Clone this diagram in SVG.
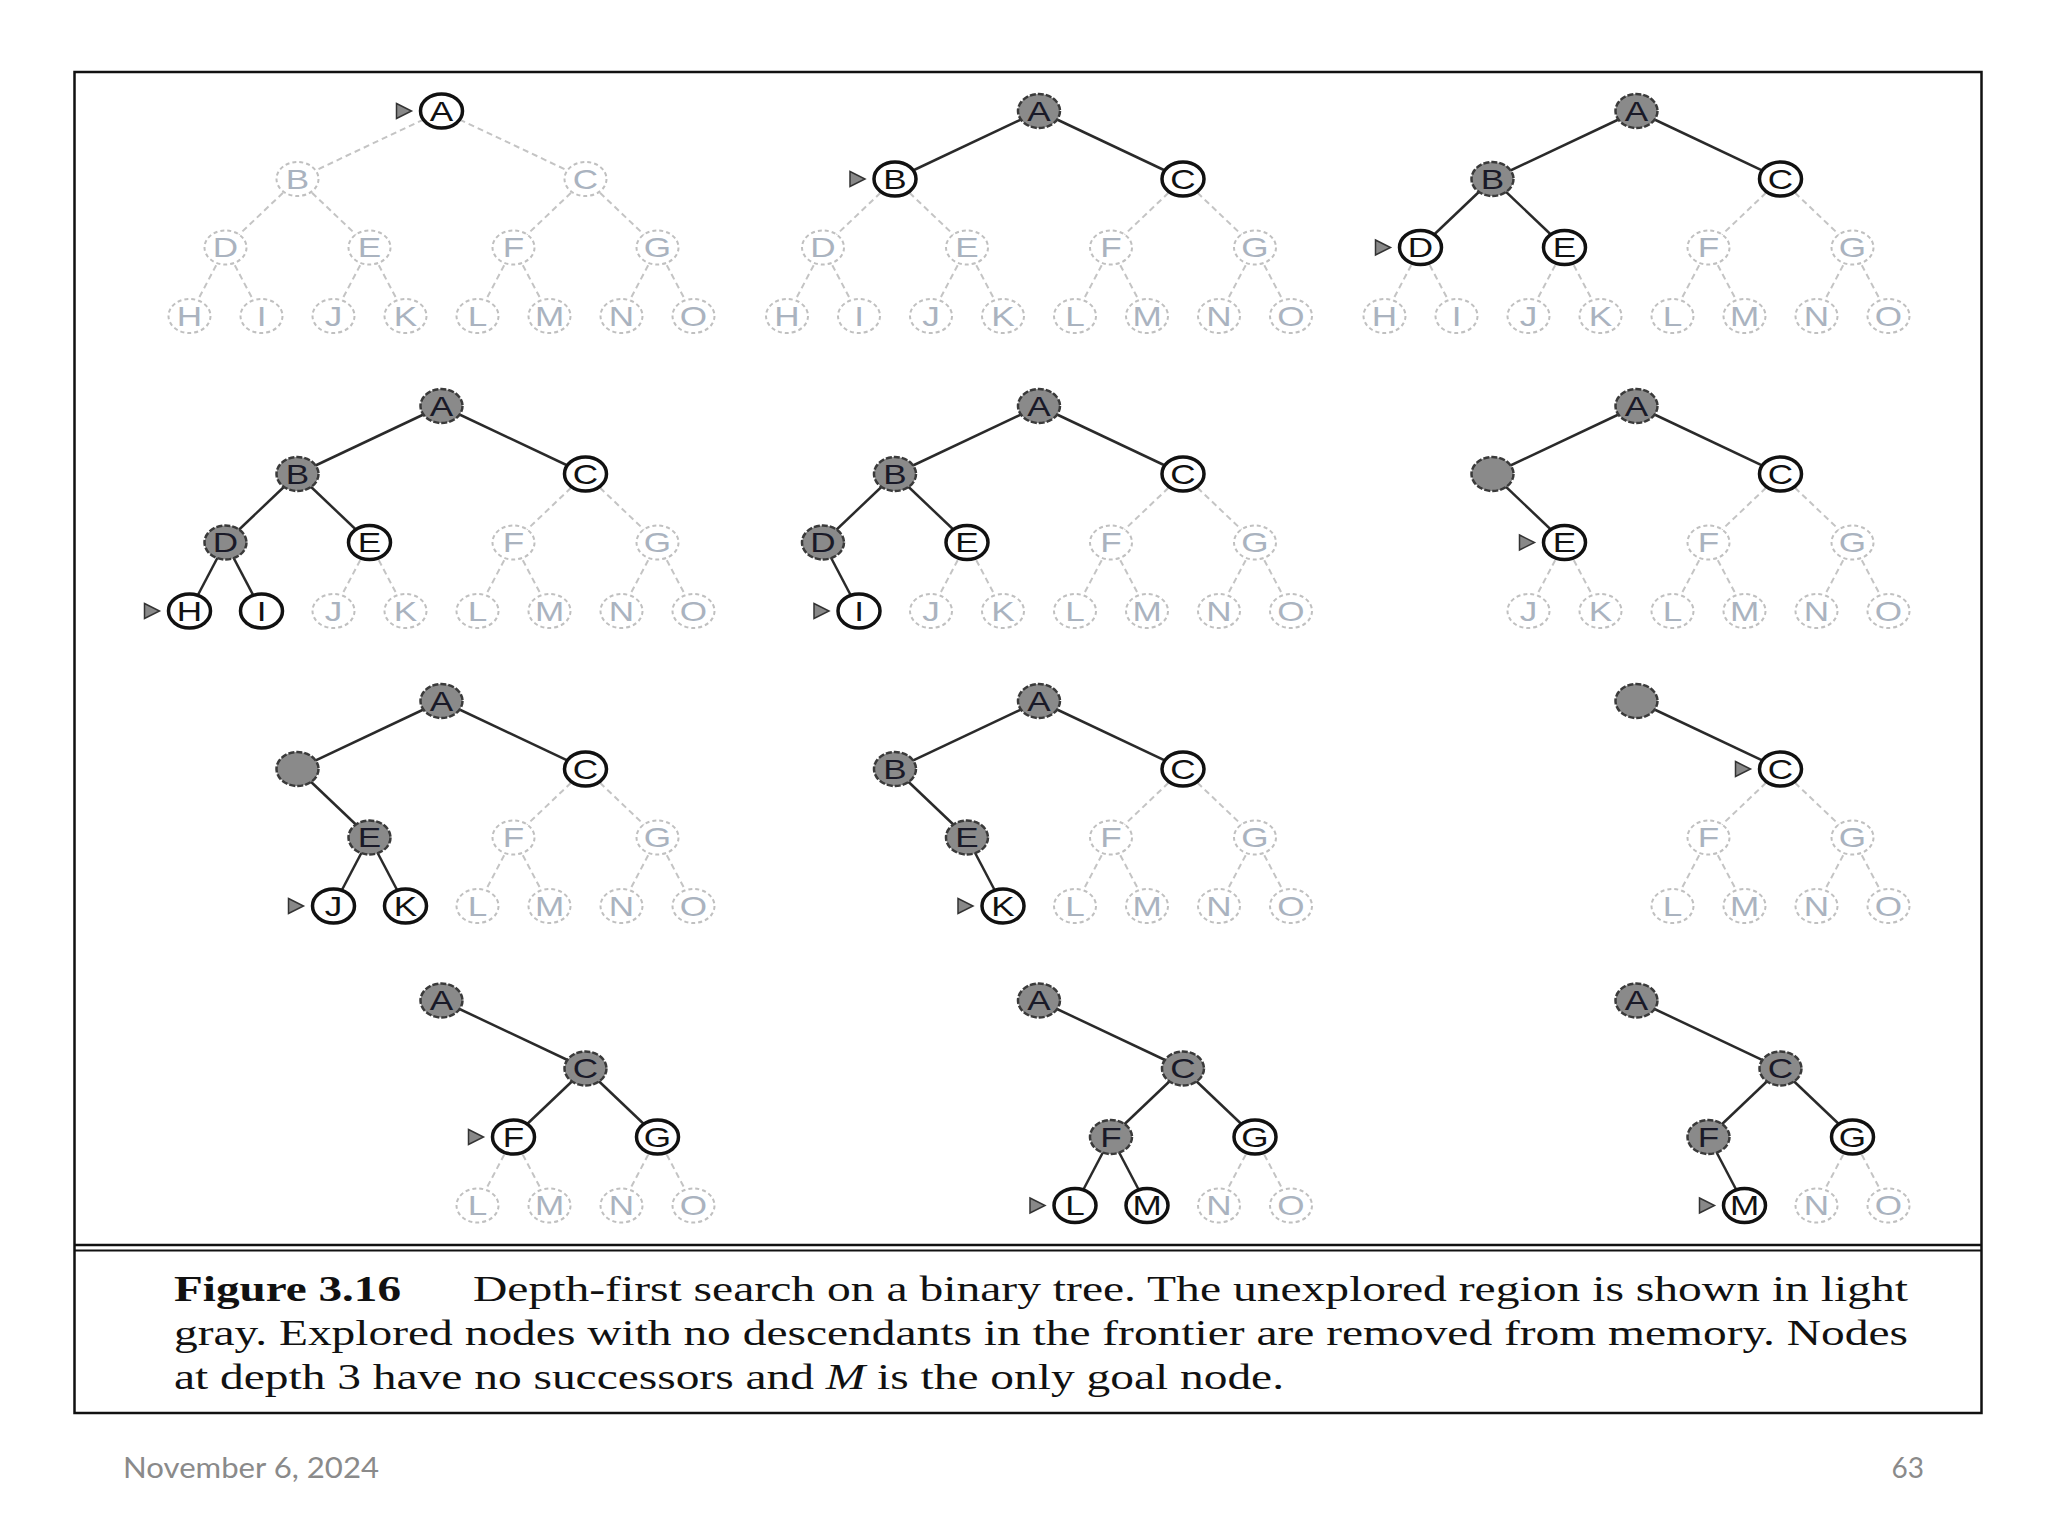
<svg xmlns="http://www.w3.org/2000/svg" xmlns:xlink="http://www.w3.org/1999/xlink" width="2048" height="1536" viewBox="0 0 2048 1536">
<style>
.n text{font-family:"Liberation Sans",Arial,sans-serif;font-size:27px;text-anchor:middle}
.u ellipse{fill:#fff;stroke:#c0c0c0;stroke-width:2;stroke-dasharray:4 3}
.u text{fill:#aab3bf}
.f ellipse{fill:#fff;stroke:#111;stroke-width:3.5}
.f text{fill:#111}
.x ellipse{fill:#8a8a8a;stroke:#3a3a3a;stroke-width:2.5;stroke-dasharray:6 2}
.x text{fill:#1a1a28}
.eu{stroke:#c4c4c4;stroke-width:2;stroke-dasharray:6 4;fill:none}
.ex{stroke:#2a2a2a;stroke-width:2.5;fill:none}
.cap{font-family:"Liberation Serif","Times New Roman",serif;font-size:36px;fill:#111}
.foot{font-family:Lato,"Open Sans",sans-serif;font-size:28px;fill:#8a8a8a}
</style>
<defs>
<polygon id="ptr" points="-45,-7.5 -30,0 -45,7.5" fill="#888" stroke="#333" stroke-width="1.5"/>
</defs>
<rect width="2048" height="1536" fill="#fff"/>
<rect x="74.5" y="72" width="1907" height="1341" fill="none" stroke="#111" stroke-width="2.5"/>
<line x1="74.5" y1="1245" x2="1981.5" y2="1245" stroke="#111" stroke-width="2.5"/>
<line x1="74.5" y1="1250.5" x2="1981.5" y2="1250.5" stroke="#111" stroke-width="2"/>

<!-- Panel 1 -->
<g id="panel1">
<g id="p1-edges">
<line class="eu" x1="441.5" y1="111" x2="297.5" y2="179"/>
<line class="eu" x1="441.5" y1="111" x2="585.5" y2="179"/>
<line class="eu" x1="297.5" y1="179" x2="225.5" y2="247.5"/>
<line class="eu" x1="297.5" y1="179" x2="369.5" y2="247.5"/>
<line class="eu" x1="585.5" y1="179" x2="513.5" y2="247.5"/>
<line class="eu" x1="585.5" y1="179" x2="657.5" y2="247.5"/>
<line class="eu" x1="225.5" y1="247.5" x2="189.5" y2="316"/>
<line class="eu" x1="225.5" y1="247.5" x2="261.5" y2="316"/>
<line class="eu" x1="369.5" y1="247.5" x2="333.5" y2="316"/>
<line class="eu" x1="369.5" y1="247.5" x2="405.5" y2="316"/>
<line class="eu" x1="513.5" y1="247.5" x2="477.5" y2="316"/>
<line class="eu" x1="513.5" y1="247.5" x2="549.5" y2="316"/>
<line class="eu" x1="657.5" y1="247.5" x2="621.5" y2="316"/>
<line class="eu" x1="657.5" y1="247.5" x2="693.5" y2="316"/>
</g>
<g id="p1-A" class="n f" transform="translate(441.5 111)"><use href="#ptr"/><ellipse rx="21" ry="17"/><text y="9.5" transform="scale(1.3 1)">A</text></g>
<g id="p1-B" class="n u" transform="translate(297.5 179)"><ellipse rx="21" ry="17"/><text y="9.5" transform="scale(1.3 1)">B</text></g>
<g id="p1-C" class="n u" transform="translate(585.5 179)"><ellipse rx="21" ry="17"/><text y="9.5" transform="scale(1.3 1)">C</text></g>
<g id="p1-D" class="n u" transform="translate(225.5 247.5)"><ellipse rx="21" ry="17"/><text y="9.5" transform="scale(1.3 1)">D</text></g>
<g id="p1-E" class="n u" transform="translate(369.5 247.5)"><ellipse rx="21" ry="17"/><text y="9.5" transform="scale(1.3 1)">E</text></g>
<g id="p1-F" class="n u" transform="translate(513.5 247.5)"><ellipse rx="21" ry="17"/><text y="9.5" transform="scale(1.3 1)">F</text></g>
<g id="p1-G" class="n u" transform="translate(657.5 247.5)"><ellipse rx="21" ry="17"/><text y="9.5" transform="scale(1.3 1)">G</text></g>
<g id="p1-H" class="n u" transform="translate(189.5 316)"><ellipse rx="21" ry="17"/><text y="9.5" transform="scale(1.3 1)">H</text></g>
<g id="p1-I" class="n u" transform="translate(261.5 316)"><ellipse rx="21" ry="17"/><text y="9.5" transform="scale(1.3 1)">I</text></g>
<g id="p1-J" class="n u" transform="translate(333.5 316)"><ellipse rx="21" ry="17"/><text y="9.5" transform="scale(1.3 1)">J</text></g>
<g id="p1-K" class="n u" transform="translate(405.5 316)"><ellipse rx="21" ry="17"/><text y="9.5" transform="scale(1.3 1)">K</text></g>
<g id="p1-L" class="n u" transform="translate(477.5 316)"><ellipse rx="21" ry="17"/><text y="9.5" transform="scale(1.3 1)">L</text></g>
<g id="p1-M" class="n u" transform="translate(549.5 316)"><ellipse rx="21" ry="17"/><text y="9.5" transform="scale(1.3 1)">M</text></g>
<g id="p1-N" class="n u" transform="translate(621.5 316)"><ellipse rx="21" ry="17"/><text y="9.5" transform="scale(1.3 1)">N</text></g>
<g id="p1-O" class="n u" transform="translate(693.5 316)"><ellipse rx="21" ry="17"/><text y="9.5" transform="scale(1.3 1)">O</text></g>
</g>

<!-- Panel 2 -->
<g id="panel2" transform="translate(597.5 0)">
<g id="p2-edges">
<line class="ex" x1="441.5" y1="111" x2="297.5" y2="179"/>
<line class="ex" x1="441.5" y1="111" x2="585.5" y2="179"/>
<line class="eu" x1="297.5" y1="179" x2="225.5" y2="247.5"/>
<line class="eu" x1="297.5" y1="179" x2="369.5" y2="247.5"/>
<line class="eu" x1="585.5" y1="179" x2="513.5" y2="247.5"/>
<line class="eu" x1="585.5" y1="179" x2="657.5" y2="247.5"/>
<line class="eu" x1="225.5" y1="247.5" x2="189.5" y2="316"/>
<line class="eu" x1="225.5" y1="247.5" x2="261.5" y2="316"/>
<line class="eu" x1="369.5" y1="247.5" x2="333.5" y2="316"/>
<line class="eu" x1="369.5" y1="247.5" x2="405.5" y2="316"/>
<line class="eu" x1="513.5" y1="247.5" x2="477.5" y2="316"/>
<line class="eu" x1="513.5" y1="247.5" x2="549.5" y2="316"/>
<line class="eu" x1="657.5" y1="247.5" x2="621.5" y2="316"/>
<line class="eu" x1="657.5" y1="247.5" x2="693.5" y2="316"/>
</g>
<g id="p2-A" class="n x" transform="translate(441.5 111)"><ellipse rx="21" ry="17"/><text y="9.5" transform="scale(1.3 1)">A</text></g>
<g id="p2-B" class="n f" transform="translate(297.5 179)"><use href="#ptr"/><ellipse rx="21" ry="17"/><text y="9.5" transform="scale(1.3 1)">B</text></g>
<g id="p2-C" class="n f" transform="translate(585.5 179)"><ellipse rx="21" ry="17"/><text y="9.5" transform="scale(1.3 1)">C</text></g>
<g id="p2-D" class="n u" transform="translate(225.5 247.5)"><ellipse rx="21" ry="17"/><text y="9.5" transform="scale(1.3 1)">D</text></g>
<g id="p2-E" class="n u" transform="translate(369.5 247.5)"><ellipse rx="21" ry="17"/><text y="9.5" transform="scale(1.3 1)">E</text></g>
<g id="p2-F" class="n u" transform="translate(513.5 247.5)"><ellipse rx="21" ry="17"/><text y="9.5" transform="scale(1.3 1)">F</text></g>
<g id="p2-G" class="n u" transform="translate(657.5 247.5)"><ellipse rx="21" ry="17"/><text y="9.5" transform="scale(1.3 1)">G</text></g>
<g id="p2-H" class="n u" transform="translate(189.5 316)"><ellipse rx="21" ry="17"/><text y="9.5" transform="scale(1.3 1)">H</text></g>
<g id="p2-I" class="n u" transform="translate(261.5 316)"><ellipse rx="21" ry="17"/><text y="9.5" transform="scale(1.3 1)">I</text></g>
<g id="p2-J" class="n u" transform="translate(333.5 316)"><ellipse rx="21" ry="17"/><text y="9.5" transform="scale(1.3 1)">J</text></g>
<g id="p2-K" class="n u" transform="translate(405.5 316)"><ellipse rx="21" ry="17"/><text y="9.5" transform="scale(1.3 1)">K</text></g>
<g id="p2-L" class="n u" transform="translate(477.5 316)"><ellipse rx="21" ry="17"/><text y="9.5" transform="scale(1.3 1)">L</text></g>
<g id="p2-M" class="n u" transform="translate(549.5 316)"><ellipse rx="21" ry="17"/><text y="9.5" transform="scale(1.3 1)">M</text></g>
<g id="p2-N" class="n u" transform="translate(621.5 316)"><ellipse rx="21" ry="17"/><text y="9.5" transform="scale(1.3 1)">N</text></g>
<g id="p2-O" class="n u" transform="translate(693.5 316)"><ellipse rx="21" ry="17"/><text y="9.5" transform="scale(1.3 1)">O</text></g>
</g>

<!-- Panel 3 -->
<g id="panel3" transform="translate(1195 0)">
<g id="p3-edges">
<line class="ex" x1="441.5" y1="111" x2="297.5" y2="179"/>
<line class="ex" x1="441.5" y1="111" x2="585.5" y2="179"/>
<line class="ex" x1="297.5" y1="179" x2="225.5" y2="247.5"/>
<line class="ex" x1="297.5" y1="179" x2="369.5" y2="247.5"/>
<line class="eu" x1="585.5" y1="179" x2="513.5" y2="247.5"/>
<line class="eu" x1="585.5" y1="179" x2="657.5" y2="247.5"/>
<line class="eu" x1="225.5" y1="247.5" x2="189.5" y2="316"/>
<line class="eu" x1="225.5" y1="247.5" x2="261.5" y2="316"/>
<line class="eu" x1="369.5" y1="247.5" x2="333.5" y2="316"/>
<line class="eu" x1="369.5" y1="247.5" x2="405.5" y2="316"/>
<line class="eu" x1="513.5" y1="247.5" x2="477.5" y2="316"/>
<line class="eu" x1="513.5" y1="247.5" x2="549.5" y2="316"/>
<line class="eu" x1="657.5" y1="247.5" x2="621.5" y2="316"/>
<line class="eu" x1="657.5" y1="247.5" x2="693.5" y2="316"/>
</g>
<g id="p3-A" class="n x" transform="translate(441.5 111)"><ellipse rx="21" ry="17"/><text y="9.5" transform="scale(1.3 1)">A</text></g>
<g id="p3-B" class="n x" transform="translate(297.5 179)"><ellipse rx="21" ry="17"/><text y="9.5" transform="scale(1.3 1)">B</text></g>
<g id="p3-C" class="n f" transform="translate(585.5 179)"><ellipse rx="21" ry="17"/><text y="9.5" transform="scale(1.3 1)">C</text></g>
<g id="p3-D" class="n f" transform="translate(225.5 247.5)"><use href="#ptr"/><ellipse rx="21" ry="17"/><text y="9.5" transform="scale(1.3 1)">D</text></g>
<g id="p3-E" class="n f" transform="translate(369.5 247.5)"><ellipse rx="21" ry="17"/><text y="9.5" transform="scale(1.3 1)">E</text></g>
<g id="p3-F" class="n u" transform="translate(513.5 247.5)"><ellipse rx="21" ry="17"/><text y="9.5" transform="scale(1.3 1)">F</text></g>
<g id="p3-G" class="n u" transform="translate(657.5 247.5)"><ellipse rx="21" ry="17"/><text y="9.5" transform="scale(1.3 1)">G</text></g>
<g id="p3-H" class="n u" transform="translate(189.5 316)"><ellipse rx="21" ry="17"/><text y="9.5" transform="scale(1.3 1)">H</text></g>
<g id="p3-I" class="n u" transform="translate(261.5 316)"><ellipse rx="21" ry="17"/><text y="9.5" transform="scale(1.3 1)">I</text></g>
<g id="p3-J" class="n u" transform="translate(333.5 316)"><ellipse rx="21" ry="17"/><text y="9.5" transform="scale(1.3 1)">J</text></g>
<g id="p3-K" class="n u" transform="translate(405.5 316)"><ellipse rx="21" ry="17"/><text y="9.5" transform="scale(1.3 1)">K</text></g>
<g id="p3-L" class="n u" transform="translate(477.5 316)"><ellipse rx="21" ry="17"/><text y="9.5" transform="scale(1.3 1)">L</text></g>
<g id="p3-M" class="n u" transform="translate(549.5 316)"><ellipse rx="21" ry="17"/><text y="9.5" transform="scale(1.3 1)">M</text></g>
<g id="p3-N" class="n u" transform="translate(621.5 316)"><ellipse rx="21" ry="17"/><text y="9.5" transform="scale(1.3 1)">N</text></g>
<g id="p3-O" class="n u" transform="translate(693.5 316)"><ellipse rx="21" ry="17"/><text y="9.5" transform="scale(1.3 1)">O</text></g>
</g>

<!-- Panel 4 -->
<g id="panel4" transform="translate(0 295)">
<g id="p4-edges">
<line class="ex" x1="441.5" y1="111" x2="297.5" y2="179"/>
<line class="ex" x1="441.5" y1="111" x2="585.5" y2="179"/>
<line class="ex" x1="297.5" y1="179" x2="225.5" y2="247.5"/>
<line class="ex" x1="297.5" y1="179" x2="369.5" y2="247.5"/>
<line class="eu" x1="585.5" y1="179" x2="513.5" y2="247.5"/>
<line class="eu" x1="585.5" y1="179" x2="657.5" y2="247.5"/>
<line class="ex" x1="225.5" y1="247.5" x2="189.5" y2="316"/>
<line class="ex" x1="225.5" y1="247.5" x2="261.5" y2="316"/>
<line class="eu" x1="369.5" y1="247.5" x2="333.5" y2="316"/>
<line class="eu" x1="369.5" y1="247.5" x2="405.5" y2="316"/>
<line class="eu" x1="513.5" y1="247.5" x2="477.5" y2="316"/>
<line class="eu" x1="513.5" y1="247.5" x2="549.5" y2="316"/>
<line class="eu" x1="657.5" y1="247.5" x2="621.5" y2="316"/>
<line class="eu" x1="657.5" y1="247.5" x2="693.5" y2="316"/>
</g>
<g id="p4-A" class="n x" transform="translate(441.5 111)"><ellipse rx="21" ry="17"/><text y="9.5" transform="scale(1.3 1)">A</text></g>
<g id="p4-B" class="n x" transform="translate(297.5 179)"><ellipse rx="21" ry="17"/><text y="9.5" transform="scale(1.3 1)">B</text></g>
<g id="p4-C" class="n f" transform="translate(585.5 179)"><ellipse rx="21" ry="17"/><text y="9.5" transform="scale(1.3 1)">C</text></g>
<g id="p4-D" class="n x" transform="translate(225.5 247.5)"><ellipse rx="21" ry="17"/><text y="9.5" transform="scale(1.3 1)">D</text></g>
<g id="p4-E" class="n f" transform="translate(369.5 247.5)"><ellipse rx="21" ry="17"/><text y="9.5" transform="scale(1.3 1)">E</text></g>
<g id="p4-F" class="n u" transform="translate(513.5 247.5)"><ellipse rx="21" ry="17"/><text y="9.5" transform="scale(1.3 1)">F</text></g>
<g id="p4-G" class="n u" transform="translate(657.5 247.5)"><ellipse rx="21" ry="17"/><text y="9.5" transform="scale(1.3 1)">G</text></g>
<g id="p4-H" class="n f" transform="translate(189.5 316)"><use href="#ptr"/><ellipse rx="21" ry="17"/><text y="9.5" transform="scale(1.3 1)">H</text></g>
<g id="p4-I" class="n f" transform="translate(261.5 316)"><ellipse rx="21" ry="17"/><text y="9.5" transform="scale(1.3 1)">I</text></g>
<g id="p4-J" class="n u" transform="translate(333.5 316)"><ellipse rx="21" ry="17"/><text y="9.5" transform="scale(1.3 1)">J</text></g>
<g id="p4-K" class="n u" transform="translate(405.5 316)"><ellipse rx="21" ry="17"/><text y="9.5" transform="scale(1.3 1)">K</text></g>
<g id="p4-L" class="n u" transform="translate(477.5 316)"><ellipse rx="21" ry="17"/><text y="9.5" transform="scale(1.3 1)">L</text></g>
<g id="p4-M" class="n u" transform="translate(549.5 316)"><ellipse rx="21" ry="17"/><text y="9.5" transform="scale(1.3 1)">M</text></g>
<g id="p4-N" class="n u" transform="translate(621.5 316)"><ellipse rx="21" ry="17"/><text y="9.5" transform="scale(1.3 1)">N</text></g>
<g id="p4-O" class="n u" transform="translate(693.5 316)"><ellipse rx="21" ry="17"/><text y="9.5" transform="scale(1.3 1)">O</text></g>
</g>

<!-- Panel 5 -->
<g id="panel5" transform="translate(597.5 295)">
<g id="p5-edges">
<line class="ex" x1="441.5" y1="111" x2="297.5" y2="179"/>
<line class="ex" x1="441.5" y1="111" x2="585.5" y2="179"/>
<line class="ex" x1="297.5" y1="179" x2="225.5" y2="247.5"/>
<line class="ex" x1="297.5" y1="179" x2="369.5" y2="247.5"/>
<line class="eu" x1="585.5" y1="179" x2="513.5" y2="247.5"/>
<line class="eu" x1="585.5" y1="179" x2="657.5" y2="247.5"/>
<line class="ex" x1="225.5" y1="247.5" x2="261.5" y2="316"/>
<line class="eu" x1="369.5" y1="247.5" x2="333.5" y2="316"/>
<line class="eu" x1="369.5" y1="247.5" x2="405.5" y2="316"/>
<line class="eu" x1="513.5" y1="247.5" x2="477.5" y2="316"/>
<line class="eu" x1="513.5" y1="247.5" x2="549.5" y2="316"/>
<line class="eu" x1="657.5" y1="247.5" x2="621.5" y2="316"/>
<line class="eu" x1="657.5" y1="247.5" x2="693.5" y2="316"/>
</g>
<g id="p5-A" class="n x" transform="translate(441.5 111)"><ellipse rx="21" ry="17"/><text y="9.5" transform="scale(1.3 1)">A</text></g>
<g id="p5-B" class="n x" transform="translate(297.5 179)"><ellipse rx="21" ry="17"/><text y="9.5" transform="scale(1.3 1)">B</text></g>
<g id="p5-C" class="n f" transform="translate(585.5 179)"><ellipse rx="21" ry="17"/><text y="9.5" transform="scale(1.3 1)">C</text></g>
<g id="p5-D" class="n x" transform="translate(225.5 247.5)"><ellipse rx="21" ry="17"/><text y="9.5" transform="scale(1.3 1)">D</text></g>
<g id="p5-E" class="n f" transform="translate(369.5 247.5)"><ellipse rx="21" ry="17"/><text y="9.5" transform="scale(1.3 1)">E</text></g>
<g id="p5-F" class="n u" transform="translate(513.5 247.5)"><ellipse rx="21" ry="17"/><text y="9.5" transform="scale(1.3 1)">F</text></g>
<g id="p5-G" class="n u" transform="translate(657.5 247.5)"><ellipse rx="21" ry="17"/><text y="9.5" transform="scale(1.3 1)">G</text></g>
<g id="p5-I" class="n f" transform="translate(261.5 316)"><use href="#ptr"/><ellipse rx="21" ry="17"/><text y="9.5" transform="scale(1.3 1)">I</text></g>
<g id="p5-J" class="n u" transform="translate(333.5 316)"><ellipse rx="21" ry="17"/><text y="9.5" transform="scale(1.3 1)">J</text></g>
<g id="p5-K" class="n u" transform="translate(405.5 316)"><ellipse rx="21" ry="17"/><text y="9.5" transform="scale(1.3 1)">K</text></g>
<g id="p5-L" class="n u" transform="translate(477.5 316)"><ellipse rx="21" ry="17"/><text y="9.5" transform="scale(1.3 1)">L</text></g>
<g id="p5-M" class="n u" transform="translate(549.5 316)"><ellipse rx="21" ry="17"/><text y="9.5" transform="scale(1.3 1)">M</text></g>
<g id="p5-N" class="n u" transform="translate(621.5 316)"><ellipse rx="21" ry="17"/><text y="9.5" transform="scale(1.3 1)">N</text></g>
<g id="p5-O" class="n u" transform="translate(693.5 316)"><ellipse rx="21" ry="17"/><text y="9.5" transform="scale(1.3 1)">O</text></g>
</g>

<!-- Panel 6 -->
<g id="panel6" transform="translate(1195 295)">
<g id="p6-edges">
<line class="ex" x1="441.5" y1="111" x2="297.5" y2="179"/>
<line class="ex" x1="441.5" y1="111" x2="585.5" y2="179"/>
<line class="ex" x1="297.5" y1="179" x2="369.5" y2="247.5"/>
<line class="eu" x1="585.5" y1="179" x2="513.5" y2="247.5"/>
<line class="eu" x1="585.5" y1="179" x2="657.5" y2="247.5"/>
<line class="eu" x1="369.5" y1="247.5" x2="333.5" y2="316"/>
<line class="eu" x1="369.5" y1="247.5" x2="405.5" y2="316"/>
<line class="eu" x1="513.5" y1="247.5" x2="477.5" y2="316"/>
<line class="eu" x1="513.5" y1="247.5" x2="549.5" y2="316"/>
<line class="eu" x1="657.5" y1="247.5" x2="621.5" y2="316"/>
<line class="eu" x1="657.5" y1="247.5" x2="693.5" y2="316"/>
</g>
<g id="p6-A" class="n x" transform="translate(441.5 111)"><ellipse rx="21" ry="17"/><text y="9.5" transform="scale(1.3 1)">A</text></g>
<g id="p6-B" class="n x" transform="translate(297.5 179)"><ellipse rx="21" ry="17"/></g>
<g id="p6-C" class="n f" transform="translate(585.5 179)"><ellipse rx="21" ry="17"/><text y="9.5" transform="scale(1.3 1)">C</text></g>
<g id="p6-E" class="n f" transform="translate(369.5 247.5)"><use href="#ptr"/><ellipse rx="21" ry="17"/><text y="9.5" transform="scale(1.3 1)">E</text></g>
<g id="p6-F" class="n u" transform="translate(513.5 247.5)"><ellipse rx="21" ry="17"/><text y="9.5" transform="scale(1.3 1)">F</text></g>
<g id="p6-G" class="n u" transform="translate(657.5 247.5)"><ellipse rx="21" ry="17"/><text y="9.5" transform="scale(1.3 1)">G</text></g>
<g id="p6-J" class="n u" transform="translate(333.5 316)"><ellipse rx="21" ry="17"/><text y="9.5" transform="scale(1.3 1)">J</text></g>
<g id="p6-K" class="n u" transform="translate(405.5 316)"><ellipse rx="21" ry="17"/><text y="9.5" transform="scale(1.3 1)">K</text></g>
<g id="p6-L" class="n u" transform="translate(477.5 316)"><ellipse rx="21" ry="17"/><text y="9.5" transform="scale(1.3 1)">L</text></g>
<g id="p6-M" class="n u" transform="translate(549.5 316)"><ellipse rx="21" ry="17"/><text y="9.5" transform="scale(1.3 1)">M</text></g>
<g id="p6-N" class="n u" transform="translate(621.5 316)"><ellipse rx="21" ry="17"/><text y="9.5" transform="scale(1.3 1)">N</text></g>
<g id="p6-O" class="n u" transform="translate(693.5 316)"><ellipse rx="21" ry="17"/><text y="9.5" transform="scale(1.3 1)">O</text></g>
</g>

<!-- Panel 7 -->
<g id="panel7" transform="translate(0 590)">
<g id="p7-edges">
<line class="ex" x1="441.5" y1="111" x2="297.5" y2="179"/>
<line class="ex" x1="441.5" y1="111" x2="585.5" y2="179"/>
<line class="ex" x1="297.5" y1="179" x2="369.5" y2="247.5"/>
<line class="eu" x1="585.5" y1="179" x2="513.5" y2="247.5"/>
<line class="eu" x1="585.5" y1="179" x2="657.5" y2="247.5"/>
<line class="ex" x1="369.5" y1="247.5" x2="333.5" y2="316"/>
<line class="ex" x1="369.5" y1="247.5" x2="405.5" y2="316"/>
<line class="eu" x1="513.5" y1="247.5" x2="477.5" y2="316"/>
<line class="eu" x1="513.5" y1="247.5" x2="549.5" y2="316"/>
<line class="eu" x1="657.5" y1="247.5" x2="621.5" y2="316"/>
<line class="eu" x1="657.5" y1="247.5" x2="693.5" y2="316"/>
</g>
<g id="p7-A" class="n x" transform="translate(441.5 111)"><ellipse rx="21" ry="17"/><text y="9.5" transform="scale(1.3 1)">A</text></g>
<g id="p7-B" class="n x" transform="translate(297.5 179)"><ellipse rx="21" ry="17"/></g>
<g id="p7-C" class="n f" transform="translate(585.5 179)"><ellipse rx="21" ry="17"/><text y="9.5" transform="scale(1.3 1)">C</text></g>
<g id="p7-E" class="n x" transform="translate(369.5 247.5)"><ellipse rx="21" ry="17"/><text y="9.5" transform="scale(1.3 1)">E</text></g>
<g id="p7-F" class="n u" transform="translate(513.5 247.5)"><ellipse rx="21" ry="17"/><text y="9.5" transform="scale(1.3 1)">F</text></g>
<g id="p7-G" class="n u" transform="translate(657.5 247.5)"><ellipse rx="21" ry="17"/><text y="9.5" transform="scale(1.3 1)">G</text></g>
<g id="p7-J" class="n f" transform="translate(333.5 316)"><use href="#ptr"/><ellipse rx="21" ry="17"/><text y="9.5" transform="scale(1.3 1)">J</text></g>
<g id="p7-K" class="n f" transform="translate(405.5 316)"><ellipse rx="21" ry="17"/><text y="9.5" transform="scale(1.3 1)">K</text></g>
<g id="p7-L" class="n u" transform="translate(477.5 316)"><ellipse rx="21" ry="17"/><text y="9.5" transform="scale(1.3 1)">L</text></g>
<g id="p7-M" class="n u" transform="translate(549.5 316)"><ellipse rx="21" ry="17"/><text y="9.5" transform="scale(1.3 1)">M</text></g>
<g id="p7-N" class="n u" transform="translate(621.5 316)"><ellipse rx="21" ry="17"/><text y="9.5" transform="scale(1.3 1)">N</text></g>
<g id="p7-O" class="n u" transform="translate(693.5 316)"><ellipse rx="21" ry="17"/><text y="9.5" transform="scale(1.3 1)">O</text></g>
</g>

<!-- Panel 8 -->
<g id="panel8" transform="translate(597.5 590)">
<g id="p8-edges">
<line class="ex" x1="441.5" y1="111" x2="297.5" y2="179"/>
<line class="ex" x1="441.5" y1="111" x2="585.5" y2="179"/>
<line class="ex" x1="297.5" y1="179" x2="369.5" y2="247.5"/>
<line class="eu" x1="585.5" y1="179" x2="513.5" y2="247.5"/>
<line class="eu" x1="585.5" y1="179" x2="657.5" y2="247.5"/>
<line class="ex" x1="369.5" y1="247.5" x2="405.5" y2="316"/>
<line class="eu" x1="513.5" y1="247.5" x2="477.5" y2="316"/>
<line class="eu" x1="513.5" y1="247.5" x2="549.5" y2="316"/>
<line class="eu" x1="657.5" y1="247.5" x2="621.5" y2="316"/>
<line class="eu" x1="657.5" y1="247.5" x2="693.5" y2="316"/>
</g>
<g id="p8-A" class="n x" transform="translate(441.5 111)"><ellipse rx="21" ry="17"/><text y="9.5" transform="scale(1.3 1)">A</text></g>
<g id="p8-B" class="n x" transform="translate(297.5 179)"><ellipse rx="21" ry="17"/><text y="9.5" transform="scale(1.3 1)">B</text></g>
<g id="p8-C" class="n f" transform="translate(585.5 179)"><ellipse rx="21" ry="17"/><text y="9.5" transform="scale(1.3 1)">C</text></g>
<g id="p8-E" class="n x" transform="translate(369.5 247.5)"><ellipse rx="21" ry="17"/><text y="9.5" transform="scale(1.3 1)">E</text></g>
<g id="p8-F" class="n u" transform="translate(513.5 247.5)"><ellipse rx="21" ry="17"/><text y="9.5" transform="scale(1.3 1)">F</text></g>
<g id="p8-G" class="n u" transform="translate(657.5 247.5)"><ellipse rx="21" ry="17"/><text y="9.5" transform="scale(1.3 1)">G</text></g>
<g id="p8-K" class="n f" transform="translate(405.5 316)"><use href="#ptr"/><ellipse rx="21" ry="17"/><text y="9.5" transform="scale(1.3 1)">K</text></g>
<g id="p8-L" class="n u" transform="translate(477.5 316)"><ellipse rx="21" ry="17"/><text y="9.5" transform="scale(1.3 1)">L</text></g>
<g id="p8-M" class="n u" transform="translate(549.5 316)"><ellipse rx="21" ry="17"/><text y="9.5" transform="scale(1.3 1)">M</text></g>
<g id="p8-N" class="n u" transform="translate(621.5 316)"><ellipse rx="21" ry="17"/><text y="9.5" transform="scale(1.3 1)">N</text></g>
<g id="p8-O" class="n u" transform="translate(693.5 316)"><ellipse rx="21" ry="17"/><text y="9.5" transform="scale(1.3 1)">O</text></g>
</g>

<!-- Panel 9 -->
<g id="panel9" transform="translate(1195 590)">
<g id="p9-edges">
<line class="ex" x1="441.5" y1="111" x2="585.5" y2="179"/>
<line class="eu" x1="585.5" y1="179" x2="513.5" y2="247.5"/>
<line class="eu" x1="585.5" y1="179" x2="657.5" y2="247.5"/>
<line class="eu" x1="513.5" y1="247.5" x2="477.5" y2="316"/>
<line class="eu" x1="513.5" y1="247.5" x2="549.5" y2="316"/>
<line class="eu" x1="657.5" y1="247.5" x2="621.5" y2="316"/>
<line class="eu" x1="657.5" y1="247.5" x2="693.5" y2="316"/>
</g>
<g id="p9-A" class="n x" transform="translate(441.5 111)"><ellipse rx="21" ry="17"/></g>
<g id="p9-C" class="n f" transform="translate(585.5 179)"><use href="#ptr"/><ellipse rx="21" ry="17"/><text y="9.5" transform="scale(1.3 1)">C</text></g>
<g id="p9-F" class="n u" transform="translate(513.5 247.5)"><ellipse rx="21" ry="17"/><text y="9.5" transform="scale(1.3 1)">F</text></g>
<g id="p9-G" class="n u" transform="translate(657.5 247.5)"><ellipse rx="21" ry="17"/><text y="9.5" transform="scale(1.3 1)">G</text></g>
<g id="p9-L" class="n u" transform="translate(477.5 316)"><ellipse rx="21" ry="17"/><text y="9.5" transform="scale(1.3 1)">L</text></g>
<g id="p9-M" class="n u" transform="translate(549.5 316)"><ellipse rx="21" ry="17"/><text y="9.5" transform="scale(1.3 1)">M</text></g>
<g id="p9-N" class="n u" transform="translate(621.5 316)"><ellipse rx="21" ry="17"/><text y="9.5" transform="scale(1.3 1)">N</text></g>
<g id="p9-O" class="n u" transform="translate(693.5 316)"><ellipse rx="21" ry="17"/><text y="9.5" transform="scale(1.3 1)">O</text></g>
</g>

<!-- Panel 10 -->
<g id="panel10" transform="translate(0 889.5)">
<g id="p10-edges">
<line class="ex" x1="441.5" y1="111" x2="585.5" y2="179"/>
<line class="ex" x1="585.5" y1="179" x2="513.5" y2="247.5"/>
<line class="ex" x1="585.5" y1="179" x2="657.5" y2="247.5"/>
<line class="eu" x1="513.5" y1="247.5" x2="477.5" y2="316"/>
<line class="eu" x1="513.5" y1="247.5" x2="549.5" y2="316"/>
<line class="eu" x1="657.5" y1="247.5" x2="621.5" y2="316"/>
<line class="eu" x1="657.5" y1="247.5" x2="693.5" y2="316"/>
</g>
<g id="p10-A" class="n x" transform="translate(441.5 111)"><ellipse rx="21" ry="17"/><text y="9.5" transform="scale(1.3 1)">A</text></g>
<g id="p10-C" class="n x" transform="translate(585.5 179)"><ellipse rx="21" ry="17"/><text y="9.5" transform="scale(1.3 1)">C</text></g>
<g id="p10-F" class="n f" transform="translate(513.5 247.5)"><use href="#ptr"/><ellipse rx="21" ry="17"/><text y="9.5" transform="scale(1.3 1)">F</text></g>
<g id="p10-G" class="n f" transform="translate(657.5 247.5)"><ellipse rx="21" ry="17"/><text y="9.5" transform="scale(1.3 1)">G</text></g>
<g id="p10-L" class="n u" transform="translate(477.5 316)"><ellipse rx="21" ry="17"/><text y="9.5" transform="scale(1.3 1)">L</text></g>
<g id="p10-M" class="n u" transform="translate(549.5 316)"><ellipse rx="21" ry="17"/><text y="9.5" transform="scale(1.3 1)">M</text></g>
<g id="p10-N" class="n u" transform="translate(621.5 316)"><ellipse rx="21" ry="17"/><text y="9.5" transform="scale(1.3 1)">N</text></g>
<g id="p10-O" class="n u" transform="translate(693.5 316)"><ellipse rx="21" ry="17"/><text y="9.5" transform="scale(1.3 1)">O</text></g>
</g>

<!-- Panel 11 -->
<g id="panel11" transform="translate(597.5 889.5)">
<g id="p11-edges">
<line class="ex" x1="441.5" y1="111" x2="585.5" y2="179"/>
<line class="ex" x1="585.5" y1="179" x2="513.5" y2="247.5"/>
<line class="ex" x1="585.5" y1="179" x2="657.5" y2="247.5"/>
<line class="ex" x1="513.5" y1="247.5" x2="477.5" y2="316"/>
<line class="ex" x1="513.5" y1="247.5" x2="549.5" y2="316"/>
<line class="eu" x1="657.5" y1="247.5" x2="621.5" y2="316"/>
<line class="eu" x1="657.5" y1="247.5" x2="693.5" y2="316"/>
</g>
<g id="p11-A" class="n x" transform="translate(441.5 111)"><ellipse rx="21" ry="17"/><text y="9.5" transform="scale(1.3 1)">A</text></g>
<g id="p11-C" class="n x" transform="translate(585.5 179)"><ellipse rx="21" ry="17"/><text y="9.5" transform="scale(1.3 1)">C</text></g>
<g id="p11-F" class="n x" transform="translate(513.5 247.5)"><ellipse rx="21" ry="17"/><text y="9.5" transform="scale(1.3 1)">F</text></g>
<g id="p11-G" class="n f" transform="translate(657.5 247.5)"><ellipse rx="21" ry="17"/><text y="9.5" transform="scale(1.3 1)">G</text></g>
<g id="p11-L" class="n f" transform="translate(477.5 316)"><use href="#ptr"/><ellipse rx="21" ry="17"/><text y="9.5" transform="scale(1.3 1)">L</text></g>
<g id="p11-M" class="n f" transform="translate(549.5 316)"><ellipse rx="21" ry="17"/><text y="9.5" transform="scale(1.3 1)">M</text></g>
<g id="p11-N" class="n u" transform="translate(621.5 316)"><ellipse rx="21" ry="17"/><text y="9.5" transform="scale(1.3 1)">N</text></g>
<g id="p11-O" class="n u" transform="translate(693.5 316)"><ellipse rx="21" ry="17"/><text y="9.5" transform="scale(1.3 1)">O</text></g>
</g>

<!-- Panel 12 -->
<g id="panel12" transform="translate(1195 889.5)">
<g id="p12-edges">
<line class="ex" x1="441.5" y1="111" x2="585.5" y2="179"/>
<line class="ex" x1="585.5" y1="179" x2="513.5" y2="247.5"/>
<line class="ex" x1="585.5" y1="179" x2="657.5" y2="247.5"/>
<line class="ex" x1="513.5" y1="247.5" x2="549.5" y2="316"/>
<line class="eu" x1="657.5" y1="247.5" x2="621.5" y2="316"/>
<line class="eu" x1="657.5" y1="247.5" x2="693.5" y2="316"/>
</g>
<g id="p12-A" class="n x" transform="translate(441.5 111)"><ellipse rx="21" ry="17"/><text y="9.5" transform="scale(1.3 1)">A</text></g>
<g id="p12-C" class="n x" transform="translate(585.5 179)"><ellipse rx="21" ry="17"/><text y="9.5" transform="scale(1.3 1)">C</text></g>
<g id="p12-F" class="n x" transform="translate(513.5 247.5)"><ellipse rx="21" ry="17"/><text y="9.5" transform="scale(1.3 1)">F</text></g>
<g id="p12-G" class="n f" transform="translate(657.5 247.5)"><ellipse rx="21" ry="17"/><text y="9.5" transform="scale(1.3 1)">G</text></g>
<g id="p12-M" class="n f" transform="translate(549.5 316)"><use href="#ptr"/><ellipse rx="21" ry="17"/><text y="9.5" transform="scale(1.3 1)">M</text></g>
<g id="p12-N" class="n u" transform="translate(621.5 316)"><ellipse rx="21" ry="17"/><text y="9.5" transform="scale(1.3 1)">N</text></g>
<g id="p12-O" class="n u" transform="translate(693.5 316)"><ellipse rx="21" ry="17"/><text y="9.5" transform="scale(1.3 1)">O</text></g>
</g>

<!-- Caption -->
<g id="caption">
<text class="cap" x="174" y="1301" font-weight="bold" textLength="227" lengthAdjust="spacingAndGlyphs">Figure 3.16</text>
<text class="cap" x="473" y="1301" textLength="1435" lengthAdjust="spacingAndGlyphs">Depth-first search on a binary tree.  The unexplored region is shown in light</text>
<text class="cap" x="174" y="1345" textLength="1734" lengthAdjust="spacingAndGlyphs">gray. Explored nodes with no descendants in the frontier are removed from memory. Nodes</text>
<text class="cap" x="174" y="1388.5" textLength="1110" lengthAdjust="spacingAndGlyphs">at depth 3 have no successors and <tspan font-style="italic">M</tspan> is the only goal node.</text>
</g>

<!-- Footer -->
<text class="foot" x="123" y="1478" textLength="256" lengthAdjust="spacingAndGlyphs">November 6, 2024</text>
<text class="foot" x="1924" y="1478" text-anchor="end">63</text>
</svg>
